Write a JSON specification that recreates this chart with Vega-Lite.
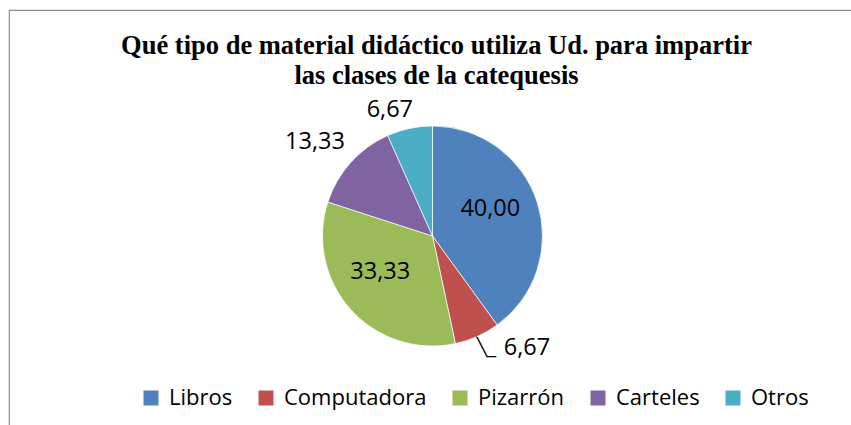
{
  "$schema": "https://vega.github.io/schema/vega-lite/v6.json",
  "width": 847,
  "height": 452,
  "autosize": {"type": "none"},
  "padding": {"left": 9, "top": 10, "right": -5, "bottom": -37},
  "background": "white",
  "view": {"stroke": "#8c8c8c", "strokeWidth": 1.2},
  "config": {
    "view": {"stroke": "#8c8c8c", "strokeWidth": 1.2},
    "locale": {"number": {"decimal": ",", "thousands": ".", "grouping": [3], "currency": ["", ""]}},
    "legend": {
      "orient": "none", "legendX": 131, "legendY": 377, "direction": "horizontal",
      "symbolType": "square", "symbolSize": 225, "symbolStrokeWidth": 0,
      "labelFont": "Open Sans", "labelFontSize": 22, "labelColor": "black",
      "labelOffset": 7, "columnPadding": 22, "padding": 0, "labelLimit": 0
    }
  },
  "title": {
    "text": ["Qué tipo de material didáctico utiliza Ud. para impartir", "las clases de la catequesis"],
    "font": "Liberation Serif", "fontSize": 26.5, "fontWeight": "bold", "color": "black",
    "anchor": "middle", "frame": "group", "orient": "top", "offset": -100, "dx": 4,
    "baseline": "alphabetic", "lineHeight": 30
  },
  "data": {
    "values": [
      {"categoria": "Libros", "valor": 40.0, "orden": 1},
      {"categoria": "Computadora", "valor": 6.67, "orden": 2},
      {"categoria": "Pizarrón", "valor": 33.33, "orden": 3},
      {"categoria": "Carteles", "valor": 13.33, "orden": 4},
      {"categoria": "Otros", "valor": 6.67, "orden": 5}
    ]
  },
  "encoding": {
    "theta": {"field": "valor", "type": "quantitative", "stack": true},
    "order": {"field": "orden", "type": "quantitative"}
  },
  "layer": [
    {
      "mark": {"type": "arc", "outerRadius": 110, "stroke": "white", "strokeWidth": 0.7},
      "encoding": {
        "color": {
          "field": "categoria", "type": "nominal", "title": null,
          "scale": {"domain": ["Libros", "Computadora", "Pizarrón", "Carteles", "Otros"],
                    "range": ["#4F81BD", "#C0504D", "#9BBB59", "#8064A2", "#4BACC6"]},
          "sort": ["Libros", "Computadora", "Pizarrón", "Carteles", "Otros"]
        }
      }
    },
    {
      "mark": {"type": "text", "radius": 65, "font": "Open Sans", "fontSize": 23.5, "color": "black", "dx": -4, "dy": -7},
      "encoding": {
        "text": {"condition": {"test": "datum.categoria === 'Libros' || datum.categoria === 'Pizarrón'", "field": "valor", "type": "quantitative", "format": ".2f"}, "value": ""}
      }
    },
    {
      "mark": {"type": "text", "radius": 150, "font": "Open Sans", "fontSize": 23.5, "color": "black", "dx": -6, "dy": 6},
      "encoding": {
        "text": {"condition": {"test": "datum.categoria === 'Carteles'", "field": "valor", "type": "quantitative", "format": ".2f"}, "value": ""}
      }
    },
    {
      "mark": {"type": "text", "radius": 133, "font": "Open Sans", "fontSize": 23.5, "color": "black", "dx": -15, "dy": 4},
      "encoding": {
        "text": {"condition": {"test": "datum.categoria === 'Otros'", "field": "valor", "type": "quantitative", "format": ".2f"}, "value": ""}
      }
    },
    {
      "mark": {"type": "text", "radius": 130, "font": "Open Sans", "fontSize": 23.5, "color": "black", "dx": 41.6, "dy": -6.8},
      "encoding": {
        "text": {"condition": {"test": "datum.categoria === 'Computadora'", "field": "valor", "type": "quantitative", "format": ".2f"}, "value": ""}
      }
    },
    {
      "mark": {"type": "text", "radius": 125, "font": "DejaVu Sans", "fontSize": 17.5, "color": "black", "align": "left", "baseline": "alphabetic", "dx": -6.6, "dy": 2.8},
      "encoding": {
        "text": {"condition": {"test": "datum.categoria === 'Computadora'", "value": "╲_"}, "value": ""}
      }
    }
  ]
}
